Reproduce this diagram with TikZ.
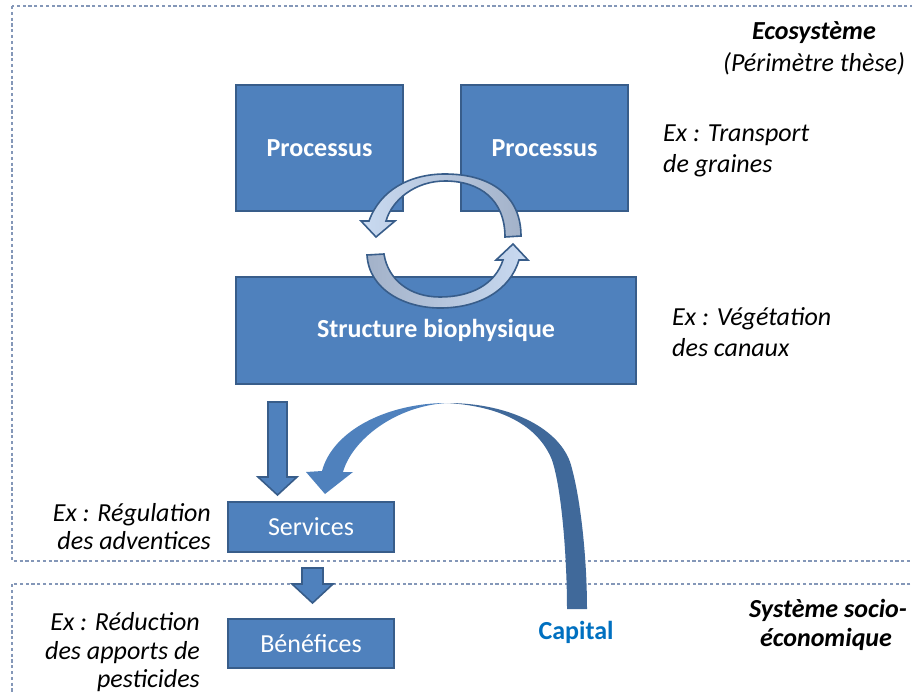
\documentclass[tikz,border=0pt]{standalone}
\usepackage{fontspec}
\setmainfont{Carlito}
\usetikzlibrary{calc}
\definecolor{boxfill}{HTML}{4F81BD}
\definecolor{boxline}{HTML}{385D8A}
\definecolor{dotline}{HTML}{8497B8}
\definecolor{arrdark}{HTML}{40699A}
\definecolor{cyclight}{HTML}{C9DAF1}
\definecolor{cycgrey}{HTML}{A3B2C9}
\definecolor{capblue}{HTML}{0070C0}
\begin{document}
\begin{tikzpicture}[x=1pt,y=-1pt,
  box/.style={draw=boxline, line width=2pt, fill=boxfill, text=white, inner sep=0pt,
    font=\fontsize{26}{31}\selectfont},
  blockarrow/.style={draw=boxline, line width=1.6pt, fill=boxfill, line join=miter},
  cycarrow/.style={draw=boxline, line width=1.6pt, line join=miter},
  zone/.style={draw=dotline, line width=2.4pt, dash pattern=on 3.2pt off 2.6pt},
  ex/.style={font=\fontsize{26}{31}\selectfont\itshape, inner sep=0pt},
  title/.style={font=\fontsize{26}{31}\selectfont\bfseries\itshape, inner sep=0pt},
]
\useasboundingbox (0,0) rectangle (912,693);
\clip (0,0) rectangle (912,693);

% zones
\draw[zone] (12,6) rectangle (940,561);
\draw[zone] (12,584) rectangle (940,720);

% boxes
\node[box, minimum width=167pt, minimum height=126pt] (proc1) at (319.5,148) {\bfseries Processus};
\node[box, minimum width=167pt, minimum height=126pt] (proc2) at (544.5,148) {\bfseries Processus};
\node[box, minimum width=400pt, minimum height=107pt] (struct) at (436,330.5) {\bfseries Structure biophysique};
\node[box, minimum width=166pt, minimum height=50pt] (serv) at (311,527) {Services};
\node[box, minimum width=166pt, minimum height=49pt] (bene) at (311,643.5) {Bénéfices};

% cycle arrows
\path[cycarrow, left color=cyclight, right color=cycgrey]
  (521,236) .. controls (521,195) and (490,174) .. (445,174)
  .. controls (410,174) and (380,190) .. (369,221)
  -- (361,221) -- (376,237) -- (395,221) -- (386,221)
  .. controls (392,200) and (415,181) .. (445,181)
  .. controls (480,181) and (505,200) .. (505,237) -- cycle;
\path[cycarrow, left color=cycgrey, right color=cyclight]
  (367,255) .. controls (369,290) and (405,308) .. (440,308)
  .. controls (480,308) and (510,290) .. (519,260)
  -- (528,260) -- (513,244) -- (496,260) -- (503,260)
  .. controls (495,285) and (470,297) .. (440,297)
  .. controls (410,297) and (388,280) .. (384,254) -- cycle;

% straight block arrows
\draw[blockarrow] (268,402) -- (287,402) -- (287,477) -- (297,477) -- (277.5,495) -- (258,477) -- (268,477) -- cycle;
\draw[blockarrow] (302,568) -- (323,568) -- (323,584) -- (333,584) -- (312.5,603) -- (292,584) -- (302,584) -- cycle;

% capital curved arrow
\fill[arrdark]
  (447,403) .. controls (512,403) and (561,430) .. (571,465)
  .. controls (581,500) and (587,560) .. (587,609)
  -- (567,609) .. controls (567,560) and (562,490) .. (552,460)
  .. controls (538,425) and (500,406) .. (447,403) -- cycle;
\fill[boxfill]
  (447,403) .. controls (388,403) and (333,430) .. (322,471)
  -- (306,472) -- (325,494) -- (353,472) -- (343,472)
  .. controls (352,440) and (395,406) .. (447,403) -- cycle;

% texts
\node[title, anchor=base] (eco) at (814,40) {Ecosystème};
\node[ex, anchor=base] (perim) at (814,71) {(Périmètre thèse)};
\node[ex, anchor=base west] (ex1a) at (663,141) {Ex : Transport};
\node[ex, anchor=base west] (ex1b) at (663,172) {de graines};
\node[ex, anchor=base west] (ex2a) at (672,325) {Ex : Végétation};
\node[ex, anchor=base west] (ex2b) at (672,356) {des canaux};
\node[ex, anchor=base east] (ex3a) at (211,521) {Ex : Régulation};
\node[ex, anchor=base east] (ex3b) at (211,549) {des adventices};
\node[ex, anchor=base east] (ex4a) at (200,630) {Ex : Réduction};
\node[ex, anchor=base east] (ex4b) at (200,659) {des apports de};
\node[ex, anchor=base east] (ex4c) at (200,687) {pesticides};
\node[title, anchor=base] (soc1) at (828,617) {Système socio-};
\node[title, anchor=base] (soc2) at (826,646) {économique};
\node[font=\fontsize{26}{31}\selectfont\bfseries, text=capblue, inner sep=0pt, anchor=base] (cap) at (576,639) {Capital};
\end{tikzpicture}
\end{document}
